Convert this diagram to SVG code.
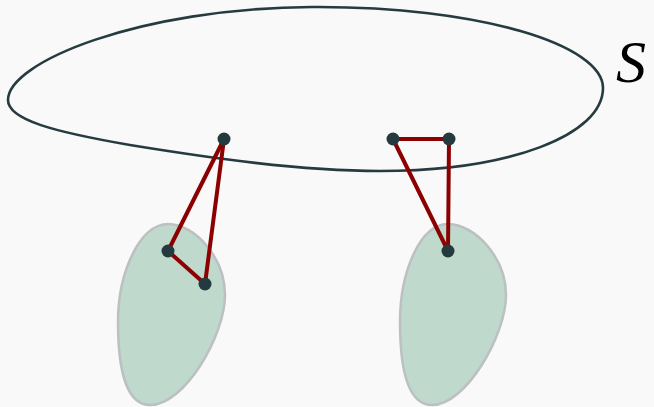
<svg xmlns="http://www.w3.org/2000/svg" width="654" height="407" viewBox="0 0 654 407">
<style>
.loop{fill:none;stroke:#263b40;stroke-width:2.6}
.blob{fill:#bfd9cd;stroke:#bcc0c2;stroke-width:2.5}
.edge{stroke:#8b0000;stroke-width:4;stroke-linecap:round}
.dot{fill:#253a3e}
.lbl{font-family:"Liberation Serif",serif;font-style:italic;font-size:60px;fill:#000}
</style>
<rect width="654" height="407" fill="#f9f9f9"/>
<g id="S">
<path class="loop" d="M8,100 C8,62 140,8 312,7 C480,6 603,45 603,88 C603,135 510,171 380,171 C300,171 210,158 130,145 C55,132 8,120 8,100 Z"/>
<text class="lbl" x="616" y="82">S</text>
</g>
<g id="blob1"><path class="blob" d="M168,224 C195,224 225,258 225,295 C225,335 185,405 150,405 C125,405 118,365 118,322 C118,272 140,224 168,224 Z"/></g>
<g id="blob2"><path class="blob" d="M448,224 C475,224 506,258 506,295 C506,335 466,405 432,405 C406,405 400,365 400,322 C400,272 420,224 448,224 Z"/></g>
<g id="connectors">
<line class="edge" x1="224" y1="139" x2="168" y2="251"/>
<line class="edge" x1="224" y1="139" x2="205" y2="284"/>
<line class="edge" x1="168" y1="251" x2="205" y2="284"/>
<line class="edge" x1="393" y1="139" x2="449" y2="139"/>
<line class="edge" x1="393" y1="139" x2="448" y2="251"/>
<line class="edge" x1="449" y1="139" x2="448" y2="251"/>
</g>
<g id="p1"><circle class="dot" cx="224" cy="139" r="6.5"/></g>
<g id="p2"><circle class="dot" cx="393" cy="139" r="6.5"/></g>
<g id="p3"><circle class="dot" cx="449" cy="139" r="6.5"/></g>
<g id="p4"><circle class="dot" cx="168" cy="251" r="6.5"/></g>
<g id="p5"><circle class="dot" cx="205" cy="284" r="6.5"/></g>
<g id="p6"><circle class="dot" cx="448" cy="251" r="6.5"/></g>
</svg>
